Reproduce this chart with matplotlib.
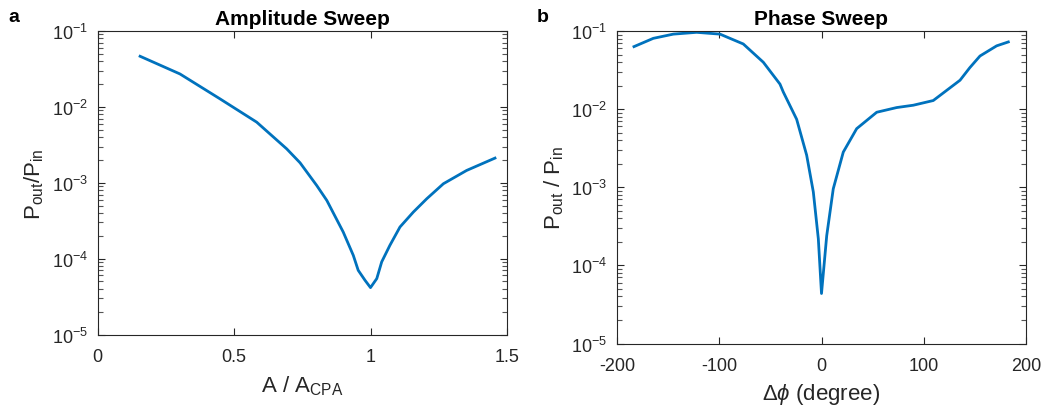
import numpy as np
import matplotlib
matplotlib.use("Agg")
import matplotlib.pyplot as plt
from matplotlib.ticker import FixedLocator, NullFormatter, LogFormatterMathtext

matplotlib.rcParams.update({
    'font.family': ['Liberation Sans', 'DejaVu Sans'],
    'mathtext.fontset': 'custom',
    'mathtext.rm': 'Liberation Sans',
    'mathtext.it': 'Liberation Sans:italic',
    'mathtext.bf': 'Liberation Sans:bold',
    'axes.unicode_minus': False,
})

# amplitude sweep (A / A_CPA, log10 Pout/Pin)
amp_x = [0.156, 0.302, 0.449, 0.583, 0.693, 0.742, 0.803, 0.840, 0.900, 0.937,
         0.955, 0.980, 1.0, 1.023, 1.041, 1.071, 1.108, 1.157, 1.206, 1.267,
         1.352, 1.456]
amp_log = [-1.333, -1.566, -1.895, -2.201, -2.553, -2.737, -3.036, -3.233, -3.649,
           -3.957, -4.154, -4.286, -4.382, -4.263, -4.043, -3.825, -3.583, -3.386,
           -3.211, -3.013, -2.838, -2.675]

# phase sweep (degree, log10 Pout/Pin)
ph_x = [-183.4, -164.5, -144.9, -122.1, -99.3, -76.5, -56.9, -40.6, -37.4, -24.3,
        -14.5, -8.0, -3.1, 0, 5.1, 11.5, 21.3, 34.4, 54.0, 73.5, 89.8, 109.3,
        122.4, 135.5, 145, 155, 171.3, 182.7]
ph_log = [-1.20, -1.094, -1.04, -1.017, -1.04, -1.166, -1.40, -1.68, -1.78, -2.13,
          -2.59, -3.06, -3.66, -4.36, -3.62, -3.02, -2.55, -2.25, -2.04, -1.98,
          -1.95, -1.89, -1.76, -1.63, -1.47, -1.32, -1.19, -1.14]

blue = '#0072BD'
dark = '#262626'

fig = plt.figure(figsize=(10.47, 4.10), dpi=100)
ax1 = fig.add_axes([97.5/1047, 1 - 335.5/410, (507-97.5)/1047, (335.5-32)/410])
ax2 = fig.add_axes([617/1047, 1 - 344.5/410, (1026-617)/1047, (344.5-32)/410])

minor_y = [m * 10.0 ** e for e in range(-5, -1) for m in range(2, 10)]


def style(ax):
    ax.set_yscale('log')
    ax.set_ylim(1e-5, 1e-1)
    ax.set_yticks([1e-5, 1e-4, 1e-3, 1e-2, 1e-1])
    ax.set_yticks(minor_y, minor=True)
    ax.yaxis.set_minor_formatter(NullFormatter())
    ax.yaxis.set_major_formatter(LogFormatterMathtext())
    ax.tick_params(axis='both', which='major', direction='in', labelsize=13,
                   color=dark, labelcolor=dark, length=5)
    ax.tick_params(axis='x', which='major', top=True, bottom=True, pad=10)
    ax.tick_params(axis='y', which='major', left=True, right=True, pad=7)
    ax.tick_params(axis='y', which='minor', direction='in', left=True, right=True,
                   length=3.5, width=0.8, color='#555555')
    ax.tick_params(axis='x', which='minor', top=False, bottom=False)
    for s in ax.spines.values():
        s.set_color(dark)
        s.set_linewidth(0.8)


ax1.plot(amp_x, 10 ** np.array(amp_log), color=blue, linewidth=2)
style(ax1)
ax1.set_xlim(0, 1.5)
ax1.set_xticks([0, 0.5, 1, 1.5])
ax1.set_xticklabels(['0', '0.5', '1', '1.5'])
ax1.set_xlabel(r'$\mathregular{A\ /\ A_{CPA}}$', fontsize=16, color=dark, labelpad=6)
ax1.set_ylabel(r'$\mathregular{P_{out}/P_{in}}$', fontsize=16, color=dark)
ax1.set_title('Amplitude Sweep', fontsize=15, fontweight='bold', pad=5)

ax2.plot(ph_x, 10 ** np.array(ph_log), color=blue, linewidth=2)
style(ax2)
ax2.set_xlim(-200, 200)
ax2.set_xticks([-200, -100, 0, 100, 200])
ax2.set_xlabel(r'$\mathregular{\Delta}\phi$ (degree)', fontsize=16, color=dark, labelpad=5)
ax2.set_ylabel(r'$\mathregular{P_{out}\ /\ P_{in}}$', fontsize=16, color=dark)
ax2.set_title('Phase Sweep', fontsize=15, fontweight='bold', pad=5)

fig.text(8/1047, 1 - 17/410, 'a', fontsize=14, fontweight='bold', va='center')
fig.text(537/1047, 1 - 17/410, 'b', fontsize=14, fontweight='bold', va='center')

fig.savefig('out.png', dpi=100)
